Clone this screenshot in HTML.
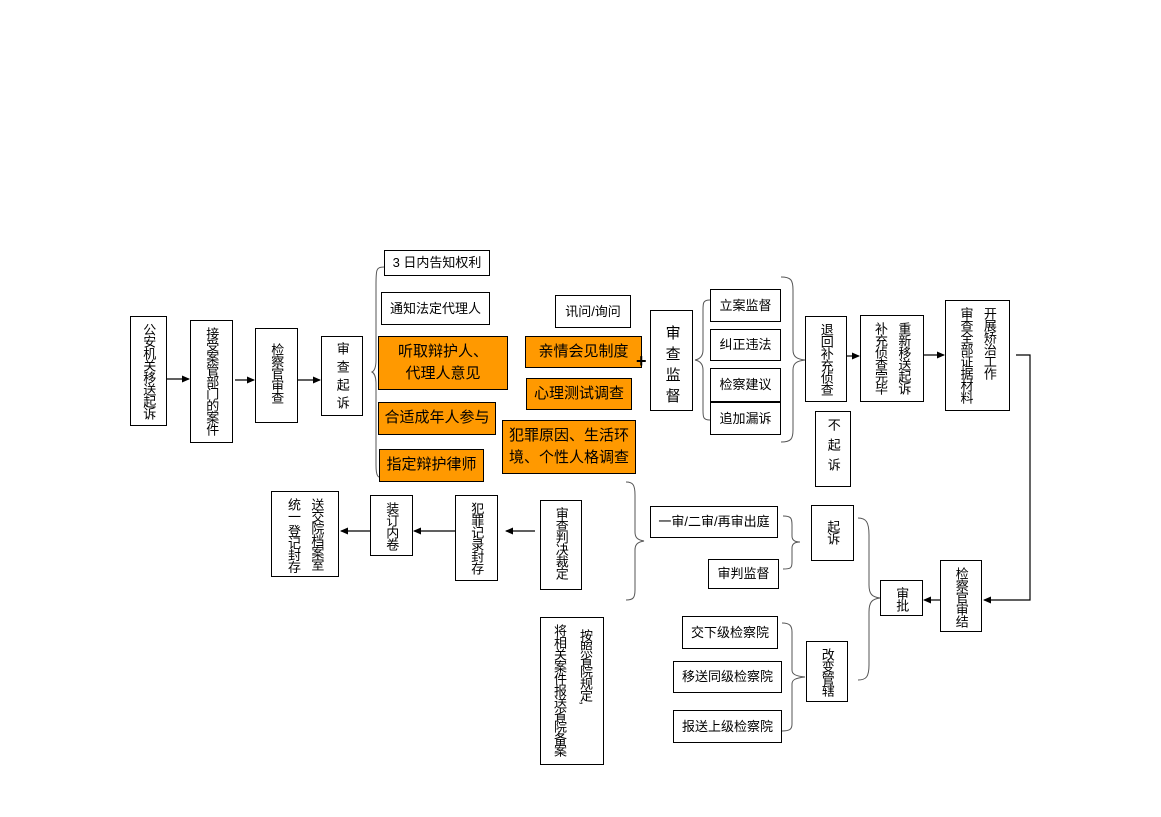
<!DOCTYPE html>
<html><head><meta charset="utf-8"><style>
body{margin:0;width:1161px;height:817px;background:#fff;position:relative;overflow:hidden;font-family:"Liberation Sans","Noto Sans CJK SC","WenQuanYi Zen Hei",sans-serif;color:#000}
.b{position:absolute;box-sizing:border-box;border:1px solid #000;background:#fff;display:flex;align-items:center;justify-content:center;font-size:13px;text-align:center;line-height:1.2}
.v{align-items:flex-start;padding-top:6px}
.v span{writing-mode:vertical-rl;letter-spacing:-1px;line-height:1.35;text-align:left}
.o{background:#ff9900;font-size:15px;line-height:1.5}
svg{position:absolute;left:0;top:0}
</style></head><body>
<svg width="1161" height="817">
<defs><marker id="a" markerWidth="8" markerHeight="8" refX="7" refY="4" orient="auto" markerUnits="userSpaceOnUse"><path d="M0,0.5 L8,4 L0,7.5z" fill="#000"/></marker></defs>
<g stroke="#000" stroke-width="1.2" fill="none">
<line x1="167" y1="379" x2="189" y2="379" marker-end="url(#a)"/>
<line x1="235" y1="380" x2="254" y2="380" marker-end="url(#a)"/>
<line x1="298" y1="380" x2="320" y2="380" marker-end="url(#a)"/>
<line x1="847" y1="356" x2="859" y2="356" marker-end="url(#a)"/>
<line x1="924" y1="355" x2="944" y2="355" marker-end="url(#a)"/>
<polyline points="1016,355 1030,355 1030,600 984,600" marker-end="url(#a)"/>
<line x1="940" y1="600" x2="924" y2="600" marker-end="url(#a)"/>
<line x1="535" y1="531" x2="506" y2="531" marker-end="url(#a)"/>
<line x1="455" y1="531" x2="414" y2="531" marker-end="url(#a)"/>
<line x1="370" y1="531" x2="341" y2="531" marker-end="url(#a)"/>
</g>
<g stroke="#555" stroke-width="1" fill="none">
<path d="M384,267 C376,267 376,270 376,285 L376,360 C376,368 374,371 372,372 C374,373 376,376 376,384 L376,465 C376,477 378,478 384,478"/>
<path d="M710,300 C703,300 703,303 703,310 L703,350 C703,356 700,359 695,360 C700,361 703,364 703,370 L703,410 C703,417 703,420 710,420"/>
<path d="M781,277 C791,277 793,280 793,290 L793,350 C793,357 797,359 805,360 C797,361 793,363 793,370 L793,430 C793,439 791,442 781,442"/>
<path d="M626,482 C633,482 635,485 635,495 L635,532 C635,538 638,540 644,541 C638,542 635,544 635,550 L635,590 C635,598 633,600 626,600"/>
<path d="M783,516 C791,516 792,518 792,525 L792,536 C792,540 795,542 800,542 C795,542 792,544 792,548 L792,562 C792,568 791,569 783,569"/>
<path d="M858,518 C866,518 869,522 869,535 L869,585 C869,594 872,597 880,598 C872,599 869,602 869,612 L869,665 C869,677 866,680 858,680"/>
<path d="M782,623 C790,623 792,626 792,632 L792,670 C792,674 795,676 805,677 C795,678 792,680 792,684 L792,724 C792,729 790,731 782,731"/>
</g>
</svg>
<div class="b v" style="left:130px;top:316px;width:37px;height:110px"><span>公安机关移送起诉</span></div>
<div class="b v" style="left:190px;top:320px;width:43px;height:123px"><span>接受案管部门的案件</span></div>
<div class="b v" style="left:255px;top:328px;width:43px;height:95px;padding-top:14px"><span>检察官审查</span></div>
<div class="b v" style="left:321px;top:336px;width:42px;height:80px;padding-top:5px"><span style="letter-spacing:5px">审查起诉</span></div>
<div class="b" style="left:384px;top:250px;width:106px;height:26px">3 日内告知权利</div>
<div class="b" style="left:381px;top:292px;width:109px;height:33px">通知法定代理人</div>
<div class="b o" style="left:378px;top:336px;width:130px;height:54px">听取辩护人、<br>代理人意见</div>
<div class="b o" style="left:378px;top:402px;width:118px;height:33px">合适成年人参与</div>
<div class="b o" style="left:379px;top:449px;width:105px;height:33px">指定辩护律师</div>
<div class="b" style="left:555px;top:295px;width:76px;height:33px">讯问/询问</div>
<div class="b o" style="left:525px;top:336px;width:117px;height:32px">亲情会见制度</div>
<div class="b o" style="left:526px;top:378px;width:106px;height:32px">心理测试调查</div>
<div class="b o" style="left:502px;top:420px;width:134px;height:54px">犯罪原因、生活环<br>境、个性人格调查</div>
<div style="position:absolute;left:636px;top:351px;font-size:18px;font-weight:bold;line-height:20px">+</div>
<div class="b v" style="left:650px;top:310px;width:43px;height:101px;padding-top:14px"><span style="font-size:15px;letter-spacing:6px">审查监督</span></div>
<div class="b" style="left:710px;top:289px;width:71px;height:33px">立案监督</div>
<div class="b" style="left:710px;top:329px;width:71px;height:32px">纠正违法</div>
<div class="b" style="left:710px;top:368px;width:71px;height:34px">检察建议</div>
<div class="b" style="left:710px;top:402px;width:71px;height:33px">追加漏诉</div>
<div class="b v" style="left:805px;top:316px;width:42px;height:86px"><span>退回补充侦查</span></div>
<div class="b v" style="left:860px;top:315px;width:64px;height:87px"><span style="line-height:1.8">重新移送起诉<br>补充侦查完毕</span></div>
<div class="b v" style="left:945px;top:300px;width:65px;height:111px"><span style="line-height:1.8">开展矫治工作<br>审查全部证据材料</span></div>
<div class="b v" style="left:815px;top:411px;width:36px;height:76px"><span style="letter-spacing:7px">不起诉</span></div>
<div class="b v" style="left:940px;top:560px;width:42px;height:72px"><span>检察官审结</span></div>
<div class="b v" style="left:880px;top:580px;width:43px;height:36px"><span>审批</span></div>
<div class="b v" style="left:811px;top:505px;width:43px;height:56px;padding-top:14px"><span>起诉</span></div>
<div class="b v" style="left:806px;top:641px;width:42px;height:61px"><span>改变管辖</span></div>
<div class="b" style="left:650px;top:506px;width:128px;height:32px">一审/二审/再审出庭</div>
<div class="b" style="left:708px;top:559px;width:71px;height:30px">审判监督</div>
<div class="b" style="left:682px;top:616px;width:96px;height:33px">交下级检察院</div>
<div class="b" style="left:673px;top:661px;width:109px;height:32px">移送同级检察院</div>
<div class="b" style="left:673px;top:710px;width:109px;height:33px">报送上级检察院</div>
<div class="b v" style="left:540px;top:500px;width:42px;height:90px"><span>审查判决裁定</span></div>
<div class="b v" style="left:455px;top:495px;width:43px;height:86px"><span>犯罪记录封存</span></div>
<div class="b v" style="left:370px;top:495px;width:43px;height:61px"><span>装订内卷</span></div>
<div class="b v" style="left:271px;top:491px;width:68px;height:86px"><span style="line-height:1.8">送交院档案室<br>统一&nbsp;登记封存</span></div>
<div class="b v" style="left:540px;top:617px;width:64px;height:148px"><span style="line-height:2">&nbsp;&nbsp;按照省院规定,<br>将相关案件报送省院备案</span></div>
</body></html>
